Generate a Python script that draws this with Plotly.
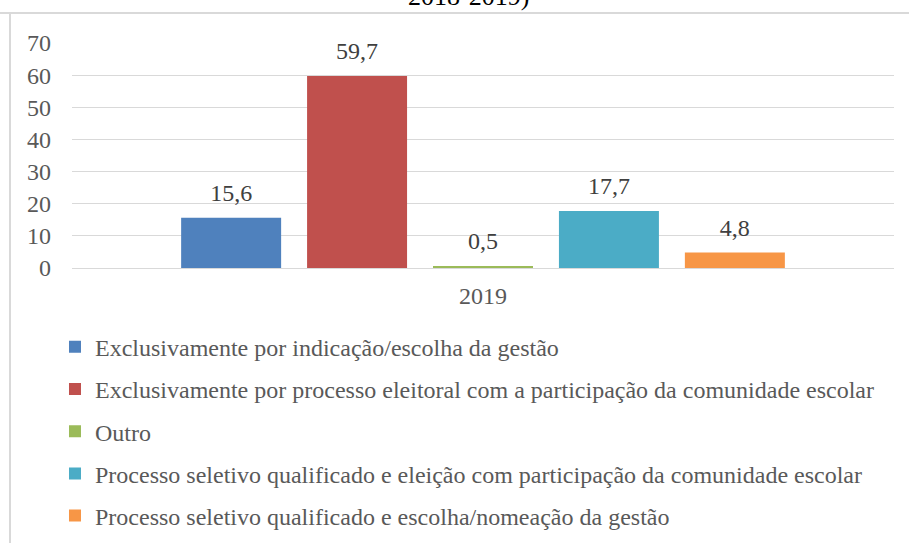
import plotly.graph_objects as go

categories = ["2019"]
series_names = [
    "Exclusivamente por indicação/escolha da gestão",
    "Exclusivamente por processo eleitoral com a participação da comunidade escolar",
    "Outro",
    "Processo seletivo qualificado e eleição com participação da comunidade escolar",
    "Processo seletivo qualificado e escolha/nomeação da gestão",
]
series_values = [15.6, 59.7, 0.5, 17.7, 4.8]
series_colors = ["#4F81BD", "#C0504D", "#9BBB59", "#4BACC6", "#F79646"]
y_ticks = [0, 10, 20, 30, 40, 50, 60, 70]

FONT = "Liberation Serif, Times New Roman, serif"

W, H = 909, 543
L, R, T, B = 72, 15, 43, 275
PW, PH = W - L - R, H - T - B

fig = go.Figure()
for i, (name, val, col) in enumerate(zip(series_names, series_values, series_colors)):
    fig.add_trace(go.Bar(
        x=categories, y=[val], name=name, marker_color=col,
        marker_line_width=0, offsetgroup=str(i),
        cliponaxis=False, legendgroup=f"g{i}",
    ))
for i, val in enumerate(series_values):
    fig.add_trace(go.Scatter(
        x=categories, y=[val], mode="markers+text", offsetgroup=str(i),
        marker=dict(size=16, opacity=0),
        text=[f"{val:.1f}".replace(".", ",")], textposition="top center",
        textfont=dict(family=FONT, size=24, color="#404040"),
        showlegend=False, hoverinfo="skip", cliponaxis=False,
    ))

fig.update_layout(
    width=W, height=H,
    margin=dict(l=L, r=R, t=T, b=B, autoexpand=False),
    paper_bgcolor="white", plot_bgcolor="white",
    barmode="group", bargap=0.234, bargroupgap=0.206,
    scattermode="group", scattergap=0.234,
    font=dict(family=FONT, size=24, color="#595959"),
    showlegend=True,
    legend=dict(
        xref="container", yref="container", x=0.0605, y=0.402,
        xanchor="left", yanchor="top",
        font=dict(family=FONT, size=24, color="#595959"),
        tracegroupgap=8, traceorder="grouped",
        itemwidth=30, bgcolor="rgba(0,0,0,0)",
    ),
    xaxis=dict(range=[-0.5, 0.5], showgrid=False, showline=False,
               tickfont=dict(family=FONT, size=24, color="#595959"),
               ticks="", ticklabelstandoff=11),
    yaxis=dict(range=[0, 70], tickvals=y_ticks, showgrid=True, gridcolor="#D9D9D9",
               gridwidth=1, zeroline=True, zerolinecolor="#D9D9D9", zerolinewidth=1,
               showline=False, ticks="", ticklabelstandoff=20,
               tickfont=dict(family=FONT, size=24, color="#595959")),
    shapes=[
        dict(type="line", xref="paper", yref="paper", x0=-L/PW, x1=1+R/PW,
             y0=1+30/PH, y1=1+30/PH, line=dict(color="#D9D9D9", width=2)),
        dict(type="line", xref="paper", yref="paper", x0=-62/PW, x1=-62/PW,
             y0=1+30/PH, y1=-B/PH, line=dict(color="#D9D9D9", width=2)),
    ],
    annotations=[
        dict(text="2018-2019)", xref="paper", yref="paper", x=(468-72)/PW, y=1+47/PH,
             xanchor="center", yanchor="middle", showarrow=False,
             font=dict(family=FONT, size=26, color="#000000")),
    ],
)

fig.write_html(
    "out.html",
    config={"displayModeBar": False},
    post_script="document.body.style.margin='0';document.body.style.overflow='hidden';",
)
